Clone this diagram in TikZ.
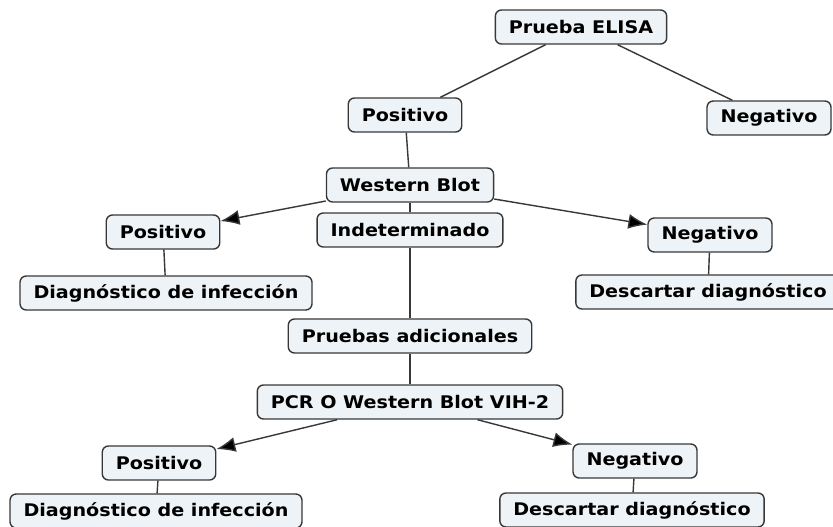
\documentclass[tikz,border=0pt]{standalone}
\usepackage{fontspec}
\setmainfont{DejaVu Sans}[FakeStretch=1.1]
\usetikzlibrary{arrows.meta}
\definecolor{fondo}{HTML}{EDF3F6}
\definecolor{borde}{HTML}{383838}
\begin{document}
\begin{tikzpicture}[>={Latex[length=3.8mm,width=3mm,fill=black]},
    caja/.style={draw=borde, line width=0.8pt, fill=fondo, rounded corners=3.5pt,
        minimum height=0.68cm, inner xsep=0.27cm, inner ysep=0pt,
        font=\fontsize{9.9}{12}\selectfont\bfseries},
    linea/.style={draw=borde, line width=0.8pt}]
\useasboundingbox (0,0) rectangle (16.66,-10.54);
\node[caja] (elisa) at (11.62,-0.54) {Prueba ELISA};
\node[caja] (pos1) at (8.10,-2.30) {Positivo};
\node[caja] (neg1) at (15.38,-2.36) {Negativo};
\node[caja] (wb) at (8.20,-3.70) {Western Blot};
\node[caja] (ind) at (8.20,-4.60) {Indeterminado};
\node[caja] (pos2) at (3.26,-4.64) {Positivo};
\node[caja] (diag1) at (3.32,-5.86) {Diagnóstico de infección};
\node[caja] (neg2) at (14.20,-4.70) {Negativo};
\node[caja] (desc1) at (14.16,-5.84) {Descartar diagnóstico};
\node[caja] (prue) at (8.20,-6.72) {Pruebas adicionales};
\node[caja] (pcr) at (8.20,-8.04) {PCR O Western Blot VIH-2};
\node[caja] (pos3) at (3.18,-9.26) {Positivo};
\node[caja] (diag2) at (3.12,-10.22) {Diagnóstico de infección};
\node[caja] (neg3) at (12.70,-9.22) {Negativo};
\node[caja] (desc2) at (12.64,-10.20) {Descartar diagnóstico};

\foreach \a/\b in {elisa/pos1,elisa/neg1,pos1/wb,wb/ind,ind/prue,prue/pcr,
    pos2/diag1,neg2/desc1,pos3/diag2,neg3/desc2}
{
    \draw[linea] (\a)--(\b);
}
\foreach \a/\b in {wb/pos2,wb/neg2,pcr/pos3,pcr/neg3}
{
    \draw[linea,->] (\a)--(\b);
}
\end{tikzpicture}
\end{document}
